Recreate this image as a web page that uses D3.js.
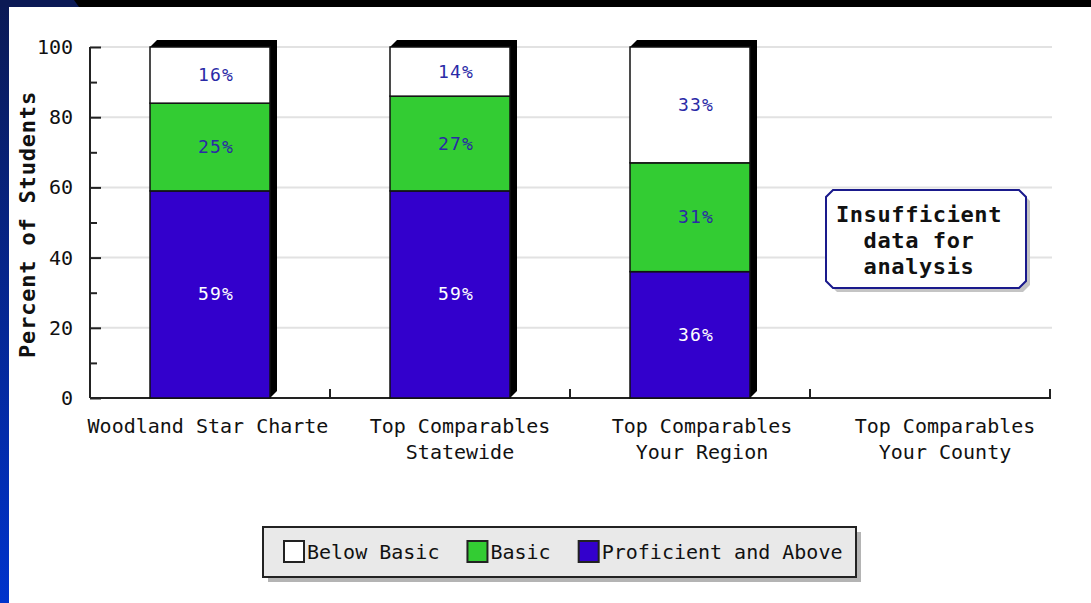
<!DOCTYPE html>
<html>
<head>
<meta charset="utf-8">
<script src="https://cdn.jsdelivr.net/npm/d3@7"></script>
<style>
  html, body { margin: 0; padding: 0; background: #fff; }
  svg { display: block; }
  text { font-family: "DejaVu Sans Mono", "Liberation Mono", monospace; }
</style>
</head>
<body>
<svg id="chart" width="1091" height="603"></svg>
<script>
// ---- data ----
const categories = ["Woodland Star Charte", "Top Comparables\nStatewide", "Top Comparables\nYour Region", "Top Comparables\nYour County"];
const belowBasic = [16, 14, 33, null];
const basic = [25, 27, 31, null];
const proficient = [59, 59, 36, null];
const seriesNames = ["Below Basic", "Basic", "Proficient and Above"];
const seriesColors = ["#ffffff", "#33cc33", "#3300cc"];
const yTicks = [0, 20, 40, 60, 80, 100];
const yMinorTicks = [10, 30, 50, 70, 90];
const noDataText = ["Insufficient", "data for", "analysis"];

// ---- layout ----
const W = 1091, H = 603;
const plot = { left: 90, right: 1050, top: 47, bottom: 398 };
const svg = d3.select("#chart");

// background frame (slide)
const defs = svg.append("defs");
const grad = defs.append("linearGradient").attr("id", "slideBlue")
  .attr("x1", 0).attr("y1", 0).attr("x2", 0).attr("y2", 1);
grad.append("stop").attr("offset", "0%").attr("stop-color", "#0b1a55");
grad.append("stop").attr("offset", "100%").attr("stop-color", "#0033cc");
svg.append("rect").attr("x", 0).attr("y", 0).attr("width", W).attr("height", H).attr("fill", "#fff");
svg.append("rect").attr("x", 0).attr("y", 0).attr("width", W).attr("height", 7).attr("fill", "#000");
svg.append("rect").attr("x", 0).attr("y", 0).attr("width", 9).attr("height", H).attr("fill", "url(#slideBlue)");
svg.append("path").attr("d", "M0,0 L74,0 L79,7 L0,7 Z").attr("fill", "#0b1a55");

const x = d3.scaleBand().domain(d3.range(categories.length))
  .range([plot.left, plot.right]).paddingInner(0.5).paddingOuter(0.25);
const y = d3.scaleLinear().domain([0, 100]).range([plot.bottom, plot.top]);

// gridlines
svg.append("g").selectAll("line").data(yTicks.filter(d => d > 0)).join("line")
  .attr("x1", plot.left).attr("x2", plot.right + 2)
  .attr("y1", d => y(d)).attr("y2", d => y(d))
  .attr("stroke", "#e2e2e2").attr("stroke-width", 2);

// y axis
const yAxis = svg.append("g").attr("transform", `translate(${plot.left},0)`)
  .call(d3.axisRight(y).tickValues(yTicks).tickSize(11).tickFormat(""));
yAxis.select(".domain").attr("stroke", "#222").attr("stroke-width", 2).attr("d", `M0,${plot.top}V${plot.bottom}`);
yAxis.selectAll(".tick line").attr("stroke", "#222").attr("stroke-width", 2);
svg.append("g").attr("transform", `translate(${plot.left},0)`)
  .call(d3.axisRight(y).tickValues(yMinorTicks).tickSize(7).tickFormat(""))
  .call(g => g.select(".domain").remove())
  .call(g => g.selectAll(".tick line").attr("stroke", "#222").attr("stroke-width", 2));
svg.append("g").selectAll("text").data(yTicks).join("text")
  .attr("x", plot.left - 17).attr("y", d => y(d) + 7)
  .attr("text-anchor", "end").attr("font-size", 20).attr("fill", "#111")
  .text(d => d);

// y title
svg.append("text")
  .attr("transform", `translate(35,${(plot.top + plot.bottom) / 2 + 2}) rotate(-90)`)
  .attr("text-anchor", "middle").attr("font-size", 22).attr("font-weight", "bold")
  .attr("letter-spacing", 0.8).attr("fill", "#111")
  .text("Percent of Students");

// x axis
svg.append("line").attr("x1", plot.left).attr("x2", plot.right + 1)
  .attr("y1", plot.bottom).attr("y2", plot.bottom).attr("stroke", "#222").attr("stroke-width", 2);
const dividers = d3.range(1, categories.length + 1).map(i => x(i - 1) + x.bandwidth() + x.step() * 0.25);
svg.append("g").selectAll("line").data(dividers).join("line")
  .attr("x1", d => d).attr("x2", d => d)
  .attr("y1", plot.bottom).attr("y2", plot.bottom - 9)
  .attr("stroke", "#222").attr("stroke-width", 2);

// category labels
const labelShift = [-2, 10, 12, 15];
const catG = svg.append("g").selectAll("text").data(categories).join("text")
  .attr("text-anchor", "middle").attr("font-size", 20).attr("fill", "#111");
catG.each(function (d, i) {
  const lines = d.split("\n");
  const cx = x(i) + x.bandwidth() / 2 + labelShift[i];
  d3.select(this).selectAll("tspan").data(lines).join("tspan")
    .attr("x", cx).attr("y", (l, j) => 433 + j * 26).text(l => l);
});

// stacked bars
const stackRows = categories.map((c, i) => ({ i, p: proficient[i], b: basic[i], bb: belowBasic[i] }));
const keys = ["p", "b", "bb"];
const keyColor = { p: seriesColors[2], b: seriesColors[1], bb: seriesColors[0] };
const labelColor = { p: "#ffffff", b: "#2a2aa6", bb: "#2a2aa6" };
const depth = 7;
const barsG = svg.append("g");
stackRows.filter(r => r.p != null).forEach(r => {
  const x0 = x(r.i), x1 = x(r.i) + x.bandwidth();
  const total = r.p + r.b + r.bb;
  const yt = y(total), yb = y(0);
  // 3D shadow
  barsG.append("path")
    .attr("d", `M${x0},${yt} L${x0 + depth},${yt - depth} L${x1 + depth},${yt - depth} L${x1 + depth},${yb - depth} L${x1},${yb} Z`)
    .attr("fill", "#000");
  let acc = 0;
  keys.forEach(k => {
    const v = r[k];
    const ya = y(acc + v), yb2 = y(acc);
    barsG.append("rect").attr("x", x0).attr("y", ya).attr("width", x1 - x0).attr("height", yb2 - ya)
      .attr("fill", keyColor[k]).attr("stroke", "#111").attr("stroke-width", 1.5);
    barsG.append("text").attr("x", (x0 + x1) / 2 + 6).attr("y", (ya + yb2) / 2 + 6)
      .attr("text-anchor", "middle").attr("font-size", 18).attr("letter-spacing", 1.2)
      .attr("fill", labelColor[k]).text(v + "%");
    acc += v;
  });
});

// insufficient data box
stackRows.filter(r => r.p == null).forEach(r => {
  const cx = x(r.i) + x.bandwidth() / 2 - 4;
  const bw = 200, bh = 98, c = 7;
  const bx = cx - bw / 2, by = 190;
  const box = (ox, oy) => `M${bx + c + ox},${by + oy} H${bx + bw - c + ox} L${bx + bw + ox},${by + c + oy} V${by + bh - c + oy} L${bx + bw - c + ox},${by + bh + oy} H${bx + c + ox} L${bx + ox},${by + bh - c + oy} V${by + c + oy} Z`;
  svg.append("path").attr("d", box(4, 4)).attr("fill", "#c4c4c4");
  svg.append("path").attr("d", box(0, 0)).attr("fill", "#fff").attr("stroke", "#1a1a8c").attr("stroke-width", 2);
  svg.append("g").selectAll("text").data(noDataText).join("text")
    .attr("x", cx - 7).attr("y", (d, j) => 222 + j * 26)
    .attr("text-anchor", "middle").attr("font-size", 22).attr("font-weight", "bold")
    .attr("letter-spacing", 0.6).attr("fill", "#111").text(d => d);
});

// legend
const lg = svg.append("g");
const lgBox = { x: 263, y: 527, w: 593, h: 50 };
lg.append("rect").attr("x", lgBox.x + 5).attr("y", lgBox.y + 5).attr("width", lgBox.w).attr("height", lgBox.h).attr("fill", "#b4b4b4");
lg.append("rect").attr("x", lgBox.x).attr("y", lgBox.y).attr("width", lgBox.w).attr("height", lgBox.h)
  .attr("fill", "#e9e9e9").attr("stroke", "#222").attr("stroke-width", 2);
let lx = lgBox.x + 21;
seriesNames.forEach((name, i) => {
  lg.append("rect").attr("x", lx).attr("y", 541).attr("width", 20).attr("height", 21)
    .attr("fill", seriesColors[i]).attr("stroke", "#222").attr("stroke-width", 2);
  const t = lg.append("text").attr("x", lx + 23).attr("y", 559).attr("font-size", 20).attr("fill", "#111").text(name);
  lx += 23 + t.node().getComputedTextLength() + 28;
});
</script>
</body>
</html>
